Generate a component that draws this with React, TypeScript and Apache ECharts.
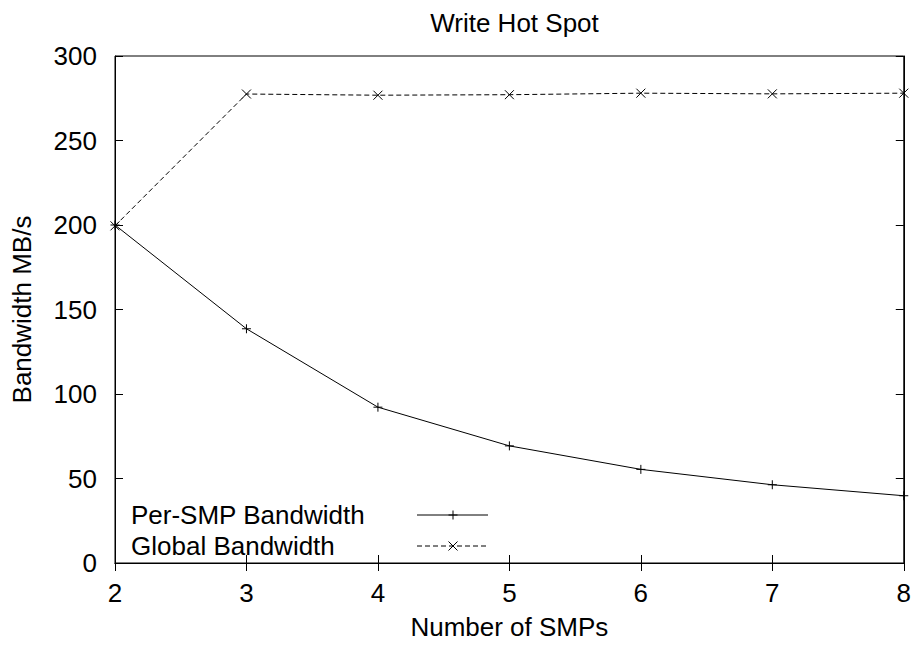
import React, { useEffect, useRef } from "react";
import * as echarts from "echarts";

const smps = [2, 3, 4, 5, 6, 7, 8];
const perSmpBandwidth = [200, 138.6, 92.2, 69.3, 55.4, 46.3, 39.8];
const globalBandwidth = [199.5, 277.5, 276.8, 277.1, 278.0, 277.6, 278.0];
const seriesNames = ["Per-SMP Bandwidth", "Global Bandwidth"];
const titleText = "Write Hot Spot";
const xName = "Number of SMPs";
const yName = "Bandwidth MB/s";

const FONT = "'Liberation Sans', Arial, Helvetica, sans-serif";
const FS = 26;
const PLUS = "path://M5,0L5,10M0,5L10,5";
const CROSS = "path://M0,0L10,10M10,0L0,10";

export default function App() {
  const ref = useRef<HTMLDivElement>(null);
  useEffect(() => {
    if (!ref.current) return;
    const chart = echarts.init(ref.current, null, { renderer: "svg" });
    const tick = { show: true, inside: true, length: 8, lineStyle: { color: "#000", width: 1 } };
    const legendY = [515, 546];
    const lx0 = 417, lx1 = 488, lm = 453;
    const graphic: any[] = [];
    seriesNames.forEach((n, i) => {
      graphic.push({
        type: "text",
        x: 131,
        y: legendY[i],
        style: { text: n, font: `${FS}px ${FONT}`, fill: "#000", verticalAlign: "middle", align: "left" },
      });
      graphic.push({
        type: "line",
        shape: { x1: lx0, y1: legendY[i], x2: lx1, y2: legendY[i] },
        style: { stroke: "#000", lineWidth: 1, lineDash: i === 1 ? [5, 3] : null },
      });
    });
    graphic.push({ type: "line", shape: { x1: lm, y1: legendY[0] - 4.5, x2: lm, y2: legendY[0] + 4.5 }, style: { stroke: "#000", lineWidth: 1 } });
    graphic.push({ type: "line", shape: { x1: lm - 4.5, y1: legendY[0], x2: lm + 4.5, y2: legendY[0] }, style: { stroke: "#000", lineWidth: 1 } });
    graphic.push({ type: "line", shape: { x1: lm - 4.5, y1: legendY[1] - 4.5, x2: lm + 4.5, y2: legendY[1] + 4.5 }, style: { stroke: "#000", lineWidth: 1 } });
    graphic.push({ type: "line", shape: { x1: lm + 4.5, y1: legendY[1] - 4.5, x2: lm - 4.5, y2: legendY[1] + 4.5 }, style: { stroke: "#000", lineWidth: 1 } });

    chart.setOption({
      animation: false,
      backgroundColor: "#fff",
      title: {
        text: titleText,
        left: 509.5,
        textAlign: "center",
        top: 5,
        textStyle: { fontFamily: FONT, fontSize: FS, fontWeight: "normal", color: "#000" },
      },
      grid: { left: 115, right: 10, top: 56, bottom: 81, show: true, borderColor: "#000", borderWidth: 1, backgroundColor: "transparent" },
      xAxis: [
        {
          type: "value",
          min: 2,
          max: 8,
          interval: 1,
          position: "bottom",
          name: xName,
          nameLocation: "middle",
          nameGap: 51,
          nameTextStyle: { fontFamily: FONT, fontSize: FS, color: "#000" },
          axisLine: { show: true, lineStyle: { color: "#000" } },
          axisTick: tick,
          axisLabel: { margin: 17, fontFamily: FONT, fontSize: FS, color: "#000" },
          splitLine: { show: false },
        },
        {
          type: "value",
          min: 2,
          max: 8,
          interval: 1,
          position: "top",
          axisLine: { show: true, lineStyle: { color: "#000" } },
          axisTick: tick,
          axisLabel: { show: false },
          splitLine: { show: false },
        },
      ],
      yAxis: [
        {
          type: "value",
          min: 0,
          max: 300,
          interval: 50,
          position: "left",
          name: yName,
          nameLocation: "middle",
          nameGap: 80,
          nameTextStyle: { fontFamily: FONT, fontSize: FS, color: "#000" },
          axisLine: { show: true, lineStyle: { color: "#000" } },
          axisTick: tick,
          axisLabel: { margin: 18, fontFamily: FONT, fontSize: FS, color: "#000" },
          splitLine: { show: false },
        },
        {
          type: "value",
          min: 0,
          max: 300,
          interval: 50,
          position: "right",
          axisLine: { show: true, lineStyle: { color: "#000" } },
          axisTick: tick,
          axisLabel: { show: false },
          splitLine: { show: false },
        },
      ],
      series: [
        {
          name: seriesNames[0],
          type: "line",
          data: smps.map((x, i) => [x, perSmpBandwidth[i]]),
          symbol: PLUS,
          symbolSize: 9,
          showAllSymbol: true,
          itemStyle: { color: "transparent", borderColor: "#000", borderWidth: 1 },
          lineStyle: { color: "#000", width: 1 },
        },
        {
          name: seriesNames[1],
          type: "line",
          data: smps.map((x, i) => [x, globalBandwidth[i]]),
          symbol: CROSS,
          symbolSize: 9,
          showAllSymbol: true,
          itemStyle: { color: "transparent", borderColor: "#000", borderWidth: 1 },
          lineStyle: { color: "#000", width: 1, type: [5, 3] },
        },
      ],
      graphic,
    });
    return () => chart.dispose();
  }, []);
  return <div ref={ref} style={{ position: "fixed", left: 0, top: 0, width: 914, height: 645 }} />;
}
